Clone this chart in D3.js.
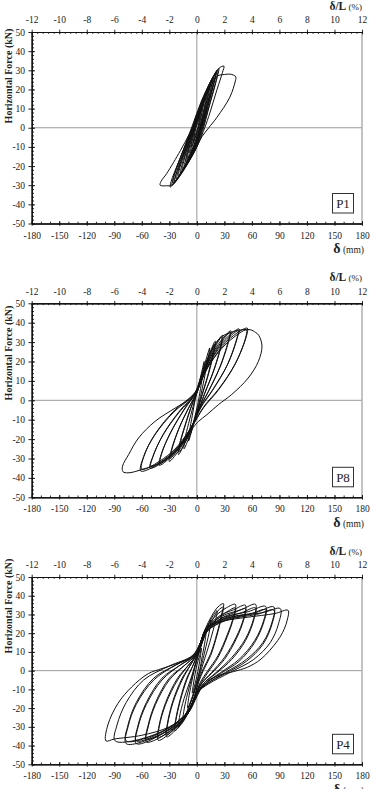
<!DOCTYPE html>
<html>
<head>
<meta charset="utf-8">
<script src="https://cdn.jsdelivr.net/npm/d3@7"></script>
<style>
body { margin: 0; background: #fff; }
svg { display: block; }
text { font-family: "Liberation Serif", "Times New Roman", serif; fill: #222; }
</style>
</head>
<body>
<div id="chart"></div>
<script>
// tick labels
const mmTicks = [-180, -150, -120, -90, -60, -30, 0, 30, 60, 90, 120, 150, 180];
const pctTicks = [-12, -10, -8, -6, -4, -2, 0, 2, 4, 6, 8, 10, 12];
const forceTicks = [-50, -40, -30, -20, -10, 0, 10, 20, 30, 40, 50];
const specimenNames = ['P1', 'P8', 'P4'];

// hysteresis loops, [displacement mm, force kN]
const p1Loops = [
    [[4, 8], [3, 5], [1, 0], [-2, -4], [-4, -8], [-3, -5], [-1, 0], [2, 4]],
    [[6, 11], [5, 8], [2, 1], [-1, -4], [-6, -10], [-5, -7], [-2, -1], [1, 4]],
    [[8, 14], [6.5, 10], [3, 2], [0, -3], [-4, -8], [-8, -13], [-6.5, -9], [-3, -2], [0, 3], [4, 8]],
    [[10, 17], [8.5, 12], [5, 4], [1, -3], [-4, -10], [-10, -16], [-8.5, -11], [-4, -3], [0, 3], [5, 10]],
    [[12, 19], [10, 14], [6, 5], [2, -2], [-3, -9], [-8, -14], [-12, -18], [-10, -13], [-5, -4], [-1, 3], [4, 9], [9, 15]],
    [[14, 22], [12, 17], [7, 6], [2, -3], [-3, -10], [-9, -16], [-14, -21], [-12, -16], [-7, -6], [-1, 2], [4, 10], [10, 17]],
    [[15, 23], [13, 18], [8, 7], [3, -2], [-3, -10], [-10, -17], [-16, -22], [-14, -17], [-8, -7], [-2, 2], [4, 10], [11, 18]],
    [[17, 25], [15, 20], [9, 8], [3, -2], [-3, -11], [-11, -18], [-18, -24], [-16, -19], [-9, -8], [-2, 2], [4, 11], [11, 19]],
    [[18, 26], [16, 21], [10, 9], [4, -2], [-3, -11], [-12, -19], [-20, -25], [-18, -20], [-11, -10], [-3, 1], [4, 11], [12, 20]],
    [[20, 28], [18, 23], [11, 10], [4, -2], [-3, -12], [-13, -20], [-22, -27], [-20, -22], [-12, -10], [-3, 1], [5, 12], [13, 22]],
    [[21, 29], [19, 24], [12, 11], [5, -2], [-3, -12], [-14, -21], [-24, -28], [-22, -23], [-13, -11], [-4, 1], [5, 13], [14, 23]],
    [[22, 30], [20, 26], [12, 12], [4, -1], [-2, -11], [-14, -22], [-25, -29], [-23, -25], [-13, -12], [-4, 1], [4, 12], [14, 23]],
    [[23, 30], [21, 25], [13, 11], [5, -2], [-3, -12], [-15, -22], [-26, -29], [-24, -24], [-14, -11], [-4, 1], [5, 13], [15, 24]],
    [[24, 31], [22, 26], [14, 12], [6, -2], [-3, -13], [-16, -23], [-27, -30], [-25, -25], [-15, -12], [-5, 1], [5, 14], [16, 25]],
    [[29.5, 32.2], [28, 29], [22, 20], [13, 6], [7, -2], [0, -10], [-12, -20], [-22, -27], [-29, -31], [-28, -28], [-20, -18],
     [-10, -6], [-2, 3], [6, 13], [16, 24], [24, 31]],
    [[40, 27.5], [42.5, 26.5], [42, 24.5], [36, 16], [22, 5.5], [13, 0], [5.5, -4.7], [-2, -11.7], [-13, -20.4], [-27, -29.9],
     [-33, -30.3], [-40, -30], [-39, -28], [-33, -24], [-18, -12], [-9, -4], [-2, 2.3], [5.5, 11], [14.5, 21.4], [22.5, 27],
     [30, 27.8], [36, 28]]
];

const p8Loops = [
    [[8, 20], [7, 15], [4, 6], [1, -2], [-3, -10], [-7, -18], [-9, -21], [-8, -16], [-5, -8], [-2, 0], [1, 6], [5, 14]],
    [[14, 27], [12.5, 22], [8, 11], [4, 2], [0, -6], [-5, -15], [-10, -21], [-14, -25], [-13, -20], [-9, -12], [-4, -3], [0, 4], [5, 13], [10, 21]],
    [[19, 29], [18, 25], [12, 13], [5, 2], [0, -6], [-6, -15], [-13, -22], [-19, -26.5], [-18, -22], [-12, -12], [-5, -2], [1, 5], [7, 14], [13, 22]],
    [[20, 30.5], [19, 26], [13, 14], [6, 3], [1, -5], [-6, -15], [-13, -22], [-20, -28], [-19, -23], [-13, -13], [-6, -3], [0, 4], [6, 13], [13, 23]],
    [[27, 32.5], [26, 28], [18, 15], [8, 3], [1, -6], [-7, -15], [-17, -23], [-29, -30], [-27, -25], [-19, -14], [-8, -3], [1, 5], [8, 15], [17, 25]],
    [[28, 33.5], [27, 29], [19, 16], [9, 4], [2, -5], [-6, -14], [-17, -24], [-30, -31.5], [-28, -26], [-20, -15], [-9, -4], [0, 4], [7, 14], [17, 26]],
    [[36, 34.8], [34, 30], [25, 17], [12, 4], [2, -5], [-7, -15], [-20, -24], [-40, -32.5], [-38, -27], [-28, -16], [-13, -4], [0, 5], [9, 16], [22, 27]],
    [[37, 35.8], [35, 31], [26, 18], [13, 5], [3, -4], [-6, -14], [-20, -25], [-41, -33.5], [-39, -28], [-29, -17], [-14, -5], [-1, 4], [8, 15], [22, 28]],
    [[45, 35.8], [43, 31], [33, 18], [17, 5], [4, -4], [-7, -15], [-24, -26], [-50, -34], [-47, -28], [-36, -17], [-18, -5], [-1, 4], [11, 17], [28, 29]],
    [[46, 36.8], [44, 32], [34, 19], [18, 6], [5, -3], [-6, -14], [-24, -27], [-51, -35], [-48, -29], [-37, -18], [-19, -6], [-2, 3], [10, 16], [28, 30]],
    [[54, 36.2], [53, 32], [41, 18], [23, 5], [7, -4], [-6, -14], [-28, -27], [-60, -35.5], [-57, -28], [-45, -17], [-24, -5], [-2, 4], [13, 18], [34, 30]],
    [[55, 37.2], [54, 33], [42, 19], [24, 6], [8, -3], [-5, -13], [-28, -28], [-61, -36.5], [-58, -29], [-46, -18], [-25, -6], [-3, 3], [12, 17], [34, 31]],
    [[58, 36.4], [64, 35], [67.5, 33.5], [71, 28], [67, 20], [56, 11.5], [38, 3], [23.6, -2.2], [11, -7.4], [2, -10.8], [-4, -14],
     [-15, -22], [-35, -31], [-60, -35.7], [-75, -37.4], [-80.5, -36.8], [-81, -34], [-74.4, -28], [-63.5, -19.4], [-45.4, -10.8],
     [-23.6, -4], [-9, 0.3], [-2, 4], [3, 10], [12, 22], [25, 32], [40, 35.5]]
];

const p4Loops = [
    [[5, 12], [4, 8], [2, 2], [0, -3], [-3, -9], [-5, -12], [-4, -8], [-2, -2], [0, 3], [3, 8]],
    [[10, 21], [9, 16], [6, 8], [3, 0], [0, -6], [-5, -14], [-10, -20], [-9, -15], [-6, -7], [-3, 0], [0, 6], [5, 14]],
    [[15, 27], [14, 22], [10, 13], [5, 3], [1, -4], [-4, -13], [-10, -21], [-15, -26], [-14, -21], [-10, -12], [-5, -3], [-1, 5], [4, 13], [10, 21]],
    [[22, 32], [20, 26], [14, 15], [7, 4], [2, -4], [-3, -12], [-9, -20], [-15, -26], [-20, -30], [-19, -25], [-14, -15], [-7, -5],
     [-1, 4], [4, 12], [10, 21], [16, 28]],
    [[29, 35.8], [27, 30], [22, 20], [15, 9], [7, 1], [2, -5], [-2, -13], [-8, -21], [-16, -28], [-24, -32], [-23, -27], [-18, -16],
     [-11, -5], [-4, 3], [0, 8], [4, 14], [9, 22], [16, 29], [23, 34]],
    [[29, 34], [27, 29], [22, 19], [15, 8], [7, 0], [2, -6], [-2, -13], [-8, -21], [-16, -27], [-24, -30.5], [-23, -26], [-18, -15],
     [-11, -4], [-4, 3], [0, 8], [4, 13], [10, 20], [17, 27], [23, 32]],
    [[42, 35.4], [40, 29], [33, 19], [23, 8], [12, 0], [4, -6], [-1, -12], [-9, -22], [-20, -30], [-33, -35.4], [-32, -29], [-26, -17],
     [-16, -5], [-7, 3], [-1, 8], [4, 15], [9, 22], [20, 29], [32, 33.5]],
    [[42, 33.5], [40, 28], [33, 18], [23, 7], [12, -1], [4, -7], [-1, -12], [-9, -22], [-20, -29], [-33, -34], [-32, -28], [-26, -16],
     [-16, -4], [-7, 3], [-1, 8], [4, 14], [10, 21], [21, 27], [33, 31.5]],
    [[53, 34.9], [51, 28], [43, 18], [30, 7], [16, -1], [5, -7], [-1, -13], [-10, -23], [-24, -31], [-42, -37.2], [-41, -30], [-34, -18],
     [-21, -5], [-9, 3], [-1, 8], [4, 15], [10, 22], [24, 29], [40, 32.5]],
    [[53, 33], [51, 27], [43, 17], [30, 6], [16, -1.5], [5, -7], [-1, -13], [-10, -23], [-24, -30], [-42, -35.5], [-41, -29], [-34, -17],
     [-21, -4], [-9, 3], [-1, 8], [4, 14], [11, 21], [25, 27.5], [41, 31]],
    [[64, 35.4], [62, 28], [53, 17], [38, 7], [21, -1], [7, -7], [0, -13], [-10, -23], [-28, -32], [-55, -38.1], [-53, -30], [-45, -18],
     [-30, -5], [-13, 3], [-2, 8], [4, 15], [10, 22], [27, 29], [48, 32.5]],
    [[64, 33.5], [62, 27], [53, 16], [38, 6], [21, -1.5], [7, -7], [0, -13], [-10, -23], [-28, -31], [-55, -36.5], [-53, -29], [-45, -17],
     [-30, -4], [-13, 3], [-2, 8], [4, 14], [11, 21], [28, 27.5], [49, 31]],
    [[75, 34.3], [73, 27], [63, 16], [46, 6], [26, -1], [9, -7], [0, -12], [-10, -22], [-32, -32], [-66, -39], [-64, -30], [-55, -18],
     [-38, -5], [-18, 3], [-3, 8], [4, 15], [10, 22], [30, 28.5], [56, 31.5]],
    [[75, 32.5], [73, 26], [63, 15], [46, 5], [26, -1.5], [9, -7], [0, -12], [-10, -22], [-32, -31], [-66, -37.5], [-64, -29], [-55, -17],
     [-38, -4], [-18, 3], [-3, 8], [4, 14], [11, 21], [31, 27], [57, 30]],
    [[84, 34], [82, 26], [72, 15], [54, 6], [31, -1], [11, -7], [0, -12], [-10, -22], [-36, -33], [-77, -39], [-75, -30], [-66, -18],
     [-47, -5], [-23, 3], [-4, 8], [4, 15], [10, 22], [32, 28], [64, 31]],
    [[84, 32.3], [82, 25], [72, 14], [54, 5], [31, -1.5], [11, -7], [0, -12], [-10, -22], [-36, -32], [-77, -37.5], [-75, -29], [-66, -17],
     [-47, -4], [-23, 3], [-4, 8], [4, 14], [11, 21], [33, 27], [65, 30]],
    [[91, 33.1], [89, 25], [80, 15], [62, 6], [36, -1], [13, -7], [0, -12], [-10, -22], [-40, -33], [-89, -37.5], [-87, -29], [-77, -17],
     [-58, -5], [-30, 2.5], [-5, 8], [4, 15], [10, 22], [34, 28], [72, 31]],
    [[99.5, 32.2], [98.5, 27], [95, 22], [88, 16], [70, 6.2], [55, 1.8], [40, -0.5], [24, -2.5], [12, -5.5], [4, -10], [-2, -16],
     [-10, -23], [-30, -30], [-60, -34.5], [-90, -36.5], [-99, -37.5], [-97, -29], [-86, -17.5], [-71, -8.7], [-53, -1.6], [-38, 1.1],
     [-24, 3.4], [-9, 6.4], [-1, 9], [4, 15], [10, 22], [25, 26], [55, 28.5], [85, 30.5]]
];

const loopsBySpecimen = [p1Loops, p8Loops, p4Loops];

// page layout of the three panels
const width = 377, height = 789;
const plotLeft = 31.7, plotRight = 362;
const panels = [
    { top: 32, bottom: 223.5, yLabelMid: 76 },
    { top: 303.3, bottom: 497.3, yLabelMid: 353 },
    { top: 577, bottom: 764.3, yLabelMid: 606 }
];

const svg = d3.select('#chart').append('svg')
    .attr('width', width)
    .attr('height', height);

const x = d3.scaleLinear().domain([-180, 180]).range([plotLeft, plotRight]);
const xPct = d3.scaleLinear().domain([-12, 12]).range([plotLeft, plotRight]);
const plain = (d) => String(d);

const line = d3.line()
    .x((d) => x(d[0]))
    .curve(d3.curveCatmullRomClosed.alpha(0.5));

function styleAxis(g) {
    g.attr('font-family', null);
    g.selectAll('.domain').attr('stroke', '#111').attr('stroke-width', 1);
    g.selectAll('.tick line').attr('stroke', '#111').attr('stroke-width', 0.9);
    g.selectAll('.tick text')
        .attr('fill', '#333')
        .style('font-family', '"Liberation Serif", serif')
        .style('font-size', '9.5px');
}

panels.forEach((p, i) => {
    const y = d3.scaleLinear().domain([-50, 50]).range([p.bottom, p.top]);
    const g = svg.append('g').attr('class', 'panel');

    // grey zero lines and right frame
    g.append('line')
        .attr('x1', x(0)).attr('x2', x(0))
        .attr('y1', p.top).attr('y2', p.bottom)
        .attr('stroke', '#9a9a9a').attr('stroke-width', 1);
    g.append('line')
        .attr('x1', plotLeft).attr('x2', plotRight)
        .attr('y1', y(0)).attr('y2', y(0))
        .attr('stroke', '#9a9a9a').attr('stroke-width', 1);
    g.append('line')
        .attr('x1', plotRight).attr('x2', plotRight)
        .attr('y1', p.top).attr('y2', p.bottom)
        .attr('stroke', '#aaa').attr('stroke-width', 1.4);

    // loops
    line.y((d) => y(d[1]));
    g.append('g').attr('class', 'loops')
        .selectAll('path')
        .data(loopsBySpecimen[i])
        .join('path')
        .attr('d', line)
        .attr('fill', 'none')
        .attr('stroke', '#111')
        .attr('stroke-width', 1)
        .attr('stroke-linejoin', 'round');

    // left axis
    g.append('g')
        .attr('transform', `translate(${plotLeft},0)`)
        .call(d3.axisRight(y).tickValues(d3.range(-50, 51, 2)).tickSize(2.3).tickSizeOuter(0).tickFormat(''))
        .call(styleAxis);
    g.append('g')
        .attr('transform', `translate(${plotLeft},0)`)
        .call(d3.axisRight(y).tickValues(forceTicks).tickSize(3.3).tickSizeOuter(0).tickFormat(''))
        .call(styleAxis);
    g.append('g')
        .attr('transform', `translate(${plotLeft},0)`)
        .call(d3.axisLeft(y).tickValues(forceTicks).tickSize(3.3).tickPadding(3.3).tickSizeOuter(0).tickFormat(plain))
        .call(styleAxis);

    // bottom axis (mm)
    g.append('g')
        .attr('transform', `translate(0,${p.bottom})`)
        .call(d3.axisTop(x).tickValues(d3.range(-180, 181, 10)).tickSize(1.8).tickSizeOuter(0).tickFormat(''))
        .call(styleAxis);
    g.append('g')
        .attr('transform', `translate(0,${p.bottom})`)
        .call(d3.axisTop(x).tickValues(mmTicks).tickSize(2.3).tickSizeOuter(0).tickFormat(''))
        .call(styleAxis);
    g.append('g')
        .attr('transform', `translate(0,${p.bottom})`)
        .call(d3.axisBottom(x).tickValues(mmTicks).tickSize(2.3).tickPadding(6).tickSizeOuter(0).tickFormat(plain))
        .call(styleAxis);

    // top axis (%)
    g.append('g')
        .attr('transform', `translate(0,${p.top})`)
        .call(d3.axisBottom(xPct).tickValues(d3.range(-12, 12.01, 0.4)).tickSize(1.8).tickSizeOuter(0).tickFormat(''))
        .call(styleAxis);
    g.append('g')
        .attr('transform', `translate(0,${p.top})`)
        .call(d3.axisBottom(xPct).tickValues(pctTicks).tickSize(2.3).tickSizeOuter(0).tickFormat(''))
        .call(styleAxis);
    g.append('g')
        .attr('transform', `translate(0,${p.top})`)
        .call(d3.axisTop(xPct).tickValues(pctTicks).tickSize(2.3).tickPadding(6.5).tickSizeOuter(0).tickFormat(plain))
        .call(styleAxis);

    // axis titles
    const topTitle = g.append('text')
        .attr('x', plotRight)
        .attr('y', p.top - 22.5)
        .attr('text-anchor', 'end');
    topTitle.append('tspan').attr('font-weight', 'bold').attr('font-size', 11.5).text('δ/L');
    topTitle.append('tspan').attr('font-size', 9).text(' (%)');

    const bottomTitle = g.append('text')
        .attr('x', plotRight + 2)
        .attr('y', p.bottom + 29.5)
        .attr('text-anchor', 'end');
    bottomTitle.append('tspan').attr('font-weight', 'bold').attr('font-size', 14).text('δ');
    bottomTitle.append('tspan').attr('font-size', 9.5).text(' (mm)');

    g.append('text')
        .attr('transform', `translate(11.8,${p.yLabelMid}) rotate(-90)`)
        .attr('text-anchor', 'middle')
        .attr('font-weight', 'bold')
        .attr('font-size', 10)
        .text('Horizontal Force (kN)');

    // specimen tag
    g.append('rect')
        .attr('x', plotRight - 29.5)
        .attr('y', p.bottom - 30)
        .attr('width', 21)
        .attr('height', 19.5)
        .attr('fill', '#fff')
        .attr('stroke', '#333')
        .attr('stroke-width', 1);
    g.append('text')
        .attr('x', plotRight - 19)
        .attr('y', p.bottom - 15.5)
        .attr('text-anchor', 'middle')
        .attr('font-size', 13)
        .text(specimenNames[i]);
});
</script>
</body>
</html>
